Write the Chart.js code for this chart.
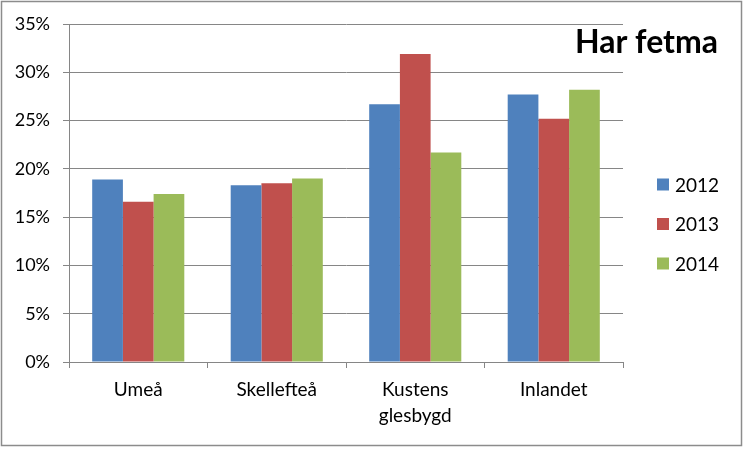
<!DOCTYPE html>
<html>
<head>
<meta charset="utf-8">
<title>Har fetma</title>
<script src="https://cdn.jsdelivr.net/npm/chart.js@4/dist/chart.umd.min.js"></script>
<style>
  html, body { margin: 0; padding: 0; background: #fff; }
  canvas { display: block; }
</style>
</head>
<body>
<canvas id="fetmaChart" width="746" height="452"></canvas>
<script>
// === Data ===
const categories = ["Umeå", "Skellefteå", ["Kustens", "glesbygd"], "Inlandet"];
const years = ["2012", "2013", "2014"];
const values2012 = [0.189, 0.183, 0.267, 0.277];
const values2013 = [0.166, 0.185, 0.319, 0.252];
const values2014 = [0.174, 0.190, 0.217, 0.282];
const yTicks = [0, 0.05, 0.10, 0.15, 0.20, 0.25, 0.30, 0.35];
const chartTitle = "Har fetma";

const colors = ["#4F81BD", "#C0504D", "#9BBB59"];
const gridGray = "#868686";
const fontFamily = "Lato, 'Open Sans', sans-serif";

// === Frame, title and legend drawn on the canvas ===
const decorPlugin = {
  id: "decor",
  beforeDraw(chart) {
    const ctx = chart.ctx;
    ctx.save();
    ctx.fillStyle = "#ffffff";
    ctx.fillRect(0, 0, chart.width, chart.height);
    ctx.restore();
  },
  afterDraw(chart) {
    const ctx = chart.ctx;
    ctx.save();
    // outer frame
    ctx.strokeStyle = "#8c8c8c";
    ctx.lineWidth = 1.5;
    ctx.strokeRect(1.5, 1.5, 740, 444);

    // title
    ctx.fillStyle = "#000";
    ctx.font = "bold 32px " + fontFamily;
    ctx.textAlign = "right";
    ctx.textBaseline = "alphabetic";
    ctx.fillText(chartTitle, 718, 53);

    // legend
    ctx.font = "19px " + fontFamily;
    ctx.textAlign = "left";
    ctx.textBaseline = "middle";
    chart.data.datasets.forEach((ds, i) => {
      const y = 184.5 + i * 39.5;
      ctx.fillStyle = ds.backgroundColor;
      ctx.fillRect(657, y - 6, 12, 12);
      ctx.fillStyle = "#000";
      ctx.fillText(ds.label, 675, y + 1);
    });
    ctx.restore();
  },
};

const seriesValues = [values2012, values2013, values2014];

new Chart(document.getElementById("fetmaChart"), {
  type: "bar",
  data: {
    labels: categories,
    datasets: years.map((year, i) => ({
      label: year,
      data: seriesValues[i],
      backgroundColor: colors[i],
      borderWidth: 0,
      barPercentage: 1.0,
      categoryPercentage: 0.665,
    })),
  },
  options: {
    responsive: false,
    devicePixelRatio: 1,
    animation: false,
    layout: { padding: { left: 0, top: 24, right: 123, bottom: 0 } },
    plugins: {
      legend: { display: false },
      title: { display: false },
      tooltip: { enabled: false },
    },
    scales: {
      x: {
        afterFit: (s) => { s.height = 90; },
        border: { display: true, color: gridGray, width: 1 },
        grid: {
          offset: true,
          drawOnChartArea: false,
          drawTicks: true,
          tickLength: 6,
          color: gridGray,
        },
        ticks: {
          color: "#000",
          padding: 9,
          maxRotation: 0,
          autoSkip: false,
          font: { family: fontFamily, size: 19, lineHeight: 1.37 },
        },
      },
      y: {
        min: 0,
        max: 0.35,
        afterFit: (s) => { s.width = 69; },
        afterBuildTicks: (s) => { s.ticks = yTicks.map((v) => ({ value: v })); },
        border: { display: true, color: gridGray, width: 1 },
        grid: { color: gridGray, lineWidth: 1, tickLength: 6, drawTicks: true },
        ticks: {
          color: "#000",
          padding: 13,
          font: { family: fontFamily, size: 18 },
          callback: (v) => Math.round(v * 100) + "%",
        },
      },
    },
  },
  plugins: [decorPlugin],
});
</script>
</body>
</html>
